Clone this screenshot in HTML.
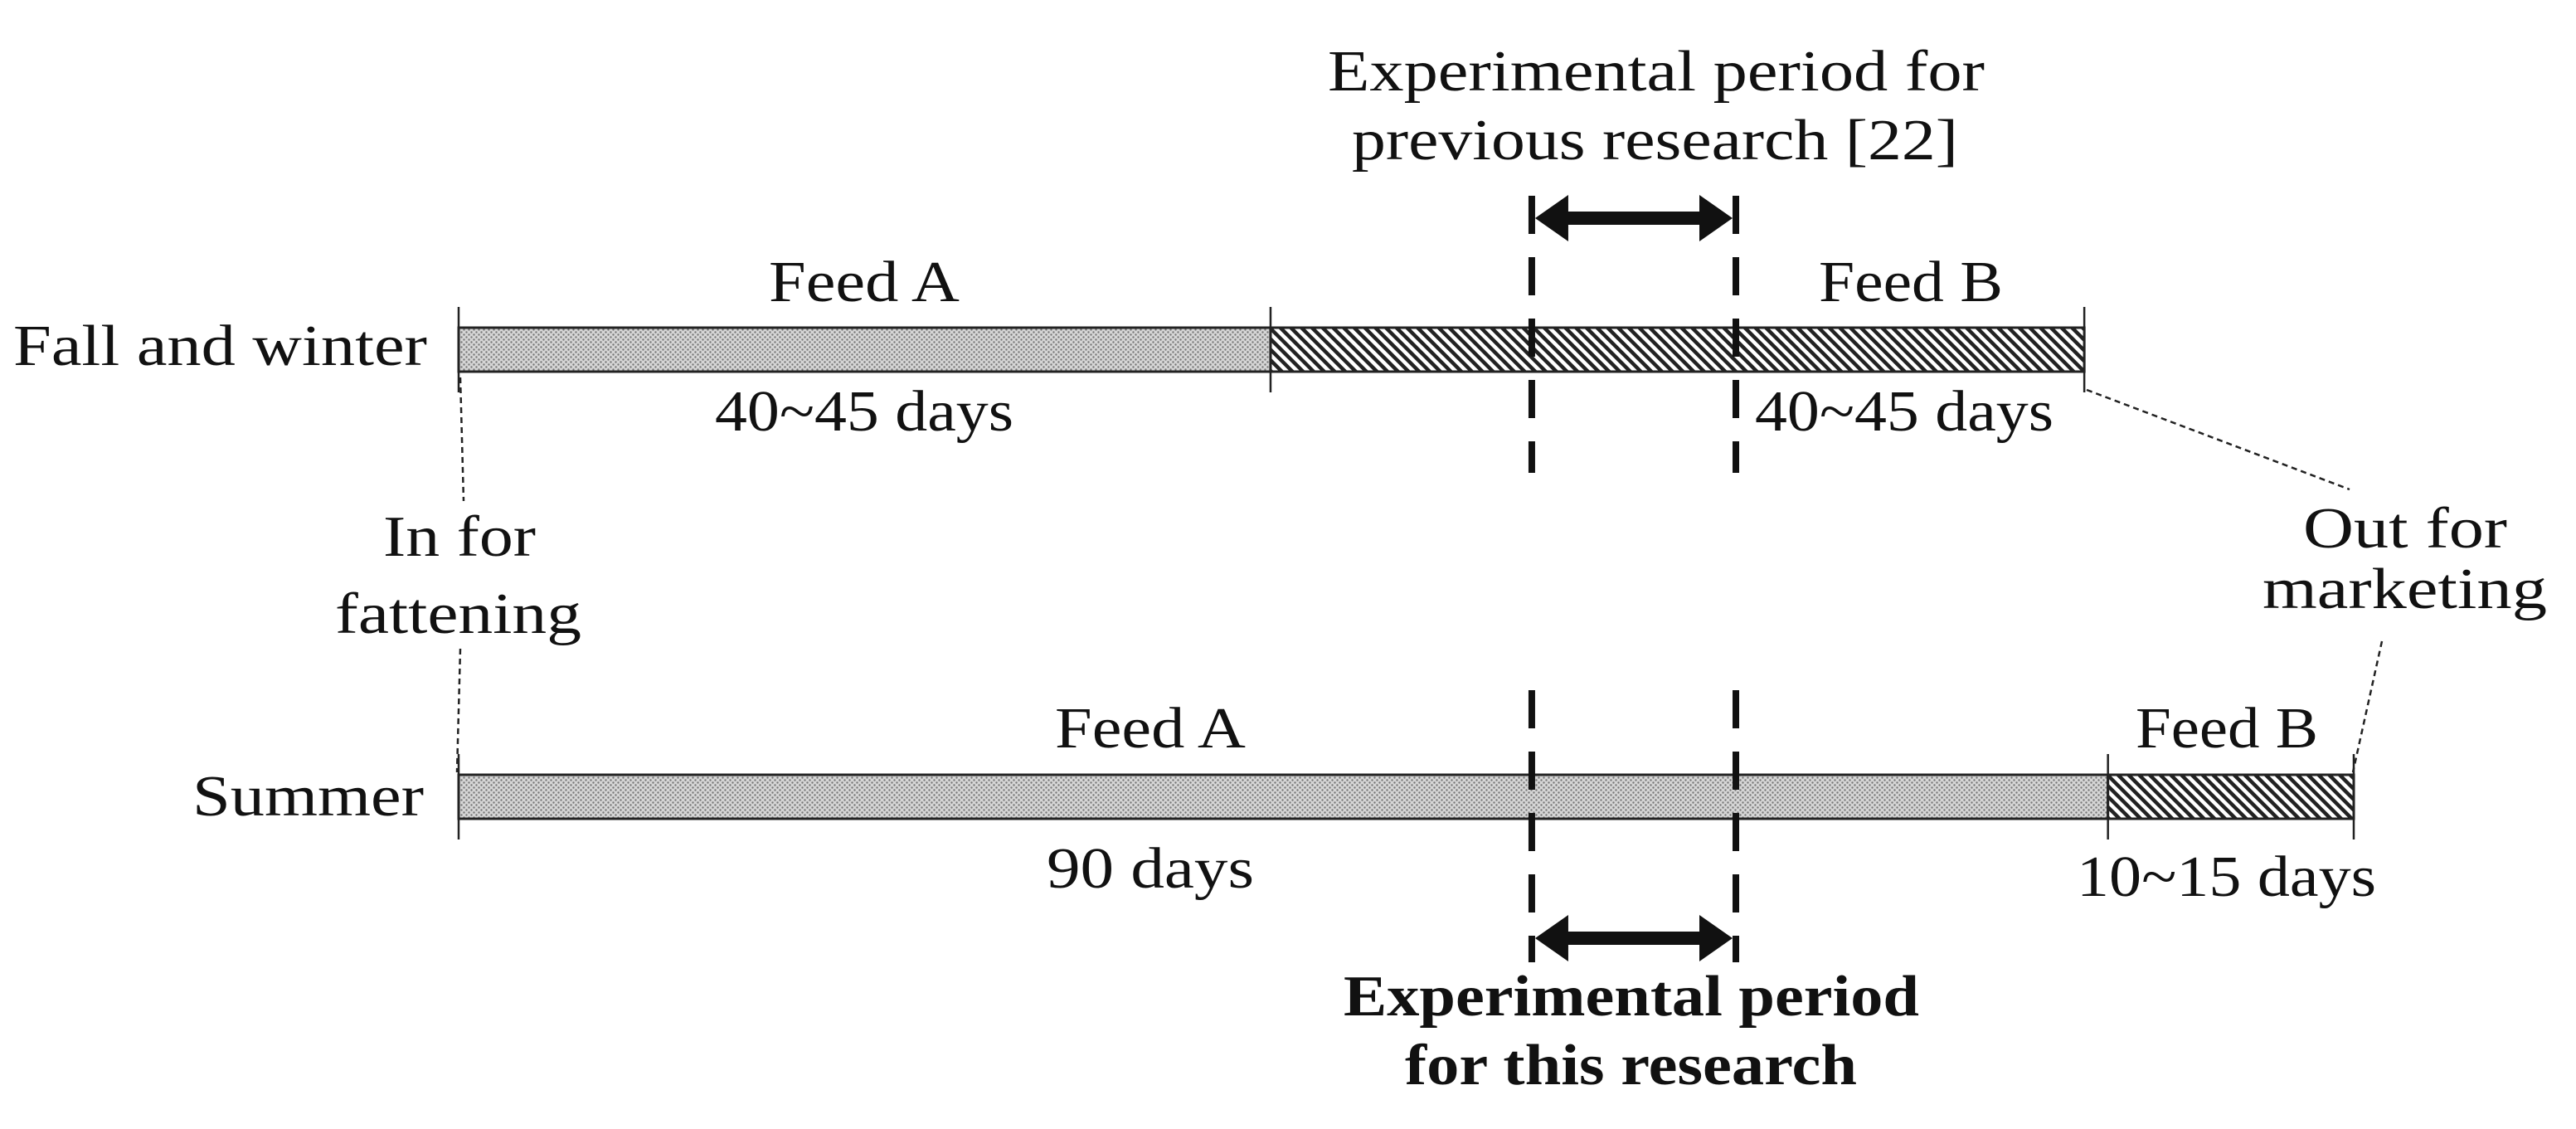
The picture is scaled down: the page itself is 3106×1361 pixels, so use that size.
<!DOCTYPE html>
<html><head><meta charset="utf-8"><style>
html,body{margin:0;padding:0;background:#fff;}
svg{display:block;}
text{font-family:"Liberation Serif",serif;font-size:70px;fill:#111;}
</style></head><body>
<svg id="chart" width="3106" height="1361" viewBox="0 0 3106 1361" xmlns="http://www.w3.org/2000/svg">
<defs>
<pattern id="dots" width="6" height="6" patternUnits="userSpaceOnUse">
<rect width="6" height="6" fill="#d6d6d6"/><circle cx="1.5" cy="1.5" r="1.2" fill="#777"/><circle cx="4.5" cy="4.5" r="1.2" fill="#777"/>
</pattern>
<pattern id="hatch" width="9" height="9" patternUnits="userSpaceOnUse" patternTransform="rotate(-45)">
<rect width="9" height="9" fill="#fff"/><rect x="0" y="0" width="4.5" height="9" fill="#222"/>
</pattern>
</defs>
<g id="marks"></g>
<g>
<text x="1601" y="109" textLength="792" lengthAdjust="spacingAndGlyphs">Experimental period for</text>
<text x="1630" y="192" textLength="731" lengthAdjust="spacingAndGlyphs">previous research [22]</text>
<text x="927" y="363" textLength="230" lengthAdjust="spacingAndGlyphs">Feed A</text>
<text x="2193" y="363" textLength="222" lengthAdjust="spacingAndGlyphs">Feed B</text>
<text x="16" y="440" textLength="499" lengthAdjust="spacingAndGlyphs">Fall and winter</text>
<text x="862" y="519" textLength="360" lengthAdjust="spacingAndGlyphs">40~45 days</text>
<text x="2116" y="519" textLength="360" lengthAdjust="spacingAndGlyphs">40~45 days</text>
<text x="462" y="670" textLength="184" lengthAdjust="spacingAndGlyphs">In for</text>
<text x="404" y="763" textLength="297" lengthAdjust="spacingAndGlyphs">fattening</text>
<text x="2777" y="660" textLength="246" lengthAdjust="spacingAndGlyphs">Out for</text>
<text x="2728" y="733" textLength="343" lengthAdjust="spacingAndGlyphs">marketing</text>
<text x="1272" y="901" textLength="230" lengthAdjust="spacingAndGlyphs">Feed A</text>
<text x="2575" y="901" textLength="220" lengthAdjust="spacingAndGlyphs">Feed B</text>
<text x="232" y="983" textLength="279" lengthAdjust="spacingAndGlyphs">Summer</text>
<text x="1262" y="1070" textLength="250" lengthAdjust="spacingAndGlyphs">90 days</text>
<text x="2504" y="1080" textLength="361" lengthAdjust="spacingAndGlyphs">10~15 days</text>
<text x="1620" y="1224" textLength="694" lengthAdjust="spacingAndGlyphs" font-weight="bold">Experimental period</text>
<text x="1694" y="1307" textLength="545" lengthAdjust="spacingAndGlyphs" font-weight="bold">for this research</text>
</g>
<g stroke="#222" stroke-width="2.5" stroke-dasharray="7,5" fill="none">
<line x1="555" y1="455" x2="559" y2="604"/>
<line x1="555" y1="782" x2="551" y2="931"/>
<line x1="2516" y1="470" x2="2833" y2="590"/>
<line x1="2872" y1="773" x2="2837" y2="931"/>
</g>
</svg>
<script>
// days scale
const rowNames = ["fall-winter", "summer"];
const fallBounds = [0, 44.6, 89.3];
const summerBounds = [0, 90.6, 104.1];
const expPeriod = [58.95, 70.16];
const x0 = 553, pxPerDay = 21.95;
function xs(d){ return x0 + d * pxPerDay; }
const NS = "http://www.w3.org/2000/svg";
const g = document.getElementById("marks");
function mk(tag, attrs){ const e = document.createElementNS(NS, tag); for (const k in attrs) e.setAttribute(k, attrs[k]); g.appendChild(e); return e; }
const rows = [{b: fallBounds, top: 395, h: 53}, {b: summerBounds, top: 934, h: 53}];
rows.forEach((r, ri) => {
  const fills = ["url(#dots)", "url(#hatch)"];
  for (let i = 0; i < r.b.length - 1; i++) {
    const e = mk("rect", {x: xs(r.b[i]), y: r.top, width: xs(r.b[i+1]) - xs(r.b[i]), height: r.h, fill: fills[i], stroke: "#222", "stroke-width": 3});
    
    
  }
  r.b.forEach((d, j) => {
    const t = mk("line", {x1: xs(d), x2: xs(d), y1: r.top - 25, y2: r.top + r.h + 25, stroke: "#222", "stroke-width": 2.5});
    
    
  });
});
const groups = [{y1: 236, y2: 570, ay: 263}, {y1: 832, y2: 1160, ay: 1131}];
groups.forEach((gp, gi) => {
  expPeriod.forEach(d => {
    const l = mk("line", {x1: xs(d), x2: xs(d), y1: gp.y1, y2: gp.y2, stroke: "#111", "stroke-width": 8, "stroke-dasharray": "46,28"});
    
    
  });
  const a = xs(expPeriod[0]) + 4, b = xs(expPeriod[1]) - 4, y = gp.ay;
  const p = mk("path", {d: `M${a} ${y} L${a+40} ${y-28} L${a+40} ${y-8} L${b-40} ${y-8} L${b-40} ${y-28} L${b} ${y} L${b-40} ${y+28} L${b-40} ${y+8} L${a+40} ${y+8} L${a+40} ${y+28} Z`, fill: "#111"});
  
  
});
</script>
</body></html>
